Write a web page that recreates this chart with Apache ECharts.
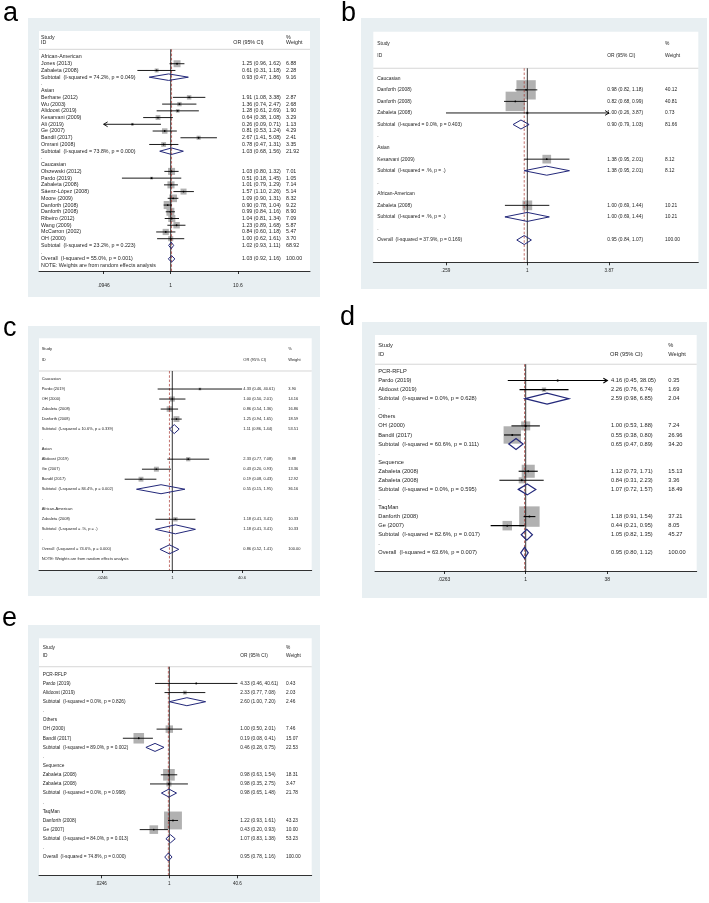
<!DOCTYPE html>
<html><head><meta charset="utf-8">
<script src="https://cdn.jsdelivr.net/npm/echarts@6/dist/echarts.min.js"></script>
<style>html,body{margin:0;padding:0;background:#fff}#c{width:709px;height:903px}</style>
</head><body><div id="c"></div>
<script>
// ---------------- DATA ----------------
const headerLabels = ['Study', 'ID', 'OR (95% CI)', '%', 'Weight'];
const panelLetters = ['a', 'b', 'c', 'd', 'e'];

// Panel a
const aLabels = ['African-American','Jones (2013)','Zabaleta (2008)','Subtotal  (I-squared = 74.2%, p = 0.049)','.','Asian','Berhane (2012)','Wu (2003)','Alidoost (2019)','Kesarvani (2009)','Ali (2019)','Ge (2007)','Bandil (2017)','Omrani (2008)','Subtotal  (I-squared = 73.8%, p = 0.000)','.','Caucasian','Olszewski (2012)','Pardo (2019)','Zabaleta (2008)','Sáenz-López (2008)','Moore (2009)','Danforth (2008)','Danforth (2008)','Ribeiro (2012)','Wang (2009)','McCarron (2002)','OH (2000)','Subtotal  (I-squared = 23.2%, p = 0.223)','.','Overall  (I-squared = 55.0%, p = 0.001)','NOTE: Weights are from random effects analysis'];
const aKinds = 'g s s t d g s s s s s s s s t d g s s s s s s s s s s s t d o n'.split(' ');
const aOR = [null,1.25,0.61,0.93,null,null,1.91,1.36,1.28,0.64,0.26,0.81,2.67,0.78,1.03,null,null,1.03,0.51,1.01,1.57,1.09,0.90,0.99,1.04,1.23,0.84,1.00,1.02,null,1.03,null];
const aLo = [null,0.96,0.31,0.47,null,null,1.08,0.74,0.61,0.38,0.09,0.53,1.41,0.47,0.68,null,null,0.80,0.18,0.79,1.10,0.90,0.78,0.84,0.81,0.89,0.60,0.62,0.93,null,0.92,null];
const aHi = [null,1.62,1.18,1.86,null,null,3.38,2.47,2.69,1.08,0.71,1.24,5.08,1.31,1.56,null,null,1.32,1.45,1.29,2.26,1.31,1.04,1.16,1.34,1.68,1.18,1.61,1.11,null,1.16,null];
const aWt = [null,6.88,2.28,9.16,null,null,2.87,2.68,1.90,3.29,1.13,4.29,2.41,3.35,21.92,null,null,7.01,1.05,7.14,5.14,8.32,9.22,8.90,7.09,5.87,5.47,3.70,68.92,null,100.00,null];
const aArrows = {10: 'L'};
const aTicks = [0.0946, 1, 10.6];
const aTickLabels = ['.0946', '1', '10.6'];

// Panel b
const bLabels = ['Caucasian','Danforth (2008)','Danforth (2008)','Zabaleta (2008)','Subtotal  (I-squared = 0.0%, p = 0.403)','.','Asian','Kesarvani (2009)','Subtotal  (I-squared = .%, p = .)','.','African-American','Zabaleta (2008)','Subtotal  (I-squared = .%, p = .)','.','Overall  (I-squared = 37.9%, p = 0.169)'];
const bKinds = 'g s s s t d g s t d g s t d o'.split(' ');
const bOR = [null,0.98,0.82,1.00,0.90,null,null,1.38,1.38,null,null,1.00,1.00,null,0.95];
const bLo = [null,0.82,0.68,0.26,0.79,null,null,0.95,0.95,null,null,0.69,0.69,null,0.84];
const bHi = [null,1.18,0.99,3.87,1.03,null,null,2.01,2.01,null,null,1.44,1.44,null,1.07];
const bWt = [null,40.12,40.81,0.73,81.66,null,null,8.12,8.12,null,null,10.21,10.21,null,100.00];
const bArrows = {3: 'R'};
const bTicks = [0.259, 1, 3.87];
const bTickLabels = ['.259', '1', '3.87'];

// Panel c
const cLabels = ['Caucasian','Pardo (2019)','OH (2000)','Zabaleta (2008)','Danforth (2008)','Subtotal  (I-squared = 10.6%, p = 0.339)','.','Asian','Alidoost (2019)','Ge (2007)','Bandil (2017)','Subtotal  (I-squared = 84.4%, p = 0.002)','.','African-American','Zabaleta (2008)','Subtotal  (I-squared = .%, p = .)','.','Overall  (I-squared = 74.6%, p = 0.000)','NOTE: Weights are from random effects analysis'];
const cKinds = 'g s s s s t d g s s s t d g s t d o n'.split(' ');
const cOR = [null,4.33,1.00,0.86,1.25,1.11,null,null,2.33,0.43,0.19,0.55,null,null,1.18,1.18,null,0.86,null];
const cLo = [null,0.46,0.50,0.54,0.94,0.86,null,null,0.77,0.20,0.08,0.15,null,null,0.41,0.41,null,0.52,null];
const cHi = [null,40.61,2.01,1.36,1.65,1.44,null,null,7.08,0.93,0.43,1.95,null,null,3.41,3.41,null,1.41,null];
const cWt = [null,3.90,14.16,16.86,18.59,53.51,null,null,9.88,13.36,12.92,36.16,null,null,10.33,10.33,null,100.00,null];
const cArrows = {};
const cTicks = [0.0246, 1, 40.6];
const cTickLabels = ['.0246', '1', '40.6'];

// Panel d
const dLabels = ['PCR-RFLP','Pardo (2019)','Alidoost (2019)','Subtotal  (I-squared = 0.0%, p = 0.628)','.','Others','OH (2000)','Bandil (2017)','Subtotal  (I-squared = 60.6%, p = 0.111)','.','Sequence','Zabaleta (2008)','Zabaleta (2008)','Subtotal  (I-squared = 0.0%, p = 0.595)','.','TaqMan','Danforth (2008)','Ge (2007)','Subtotal  (I-squared = 82.6%, p = 0.017)','.','Overall  (I-squared = 63.6%, p = 0.007)'];
const dKinds = 'g s s t d g s s t d g s s t d g s s t d o'.split(' ');
const dOR = [null,4.16,2.26,2.59,null,null,1.00,0.55,0.65,null,null,1.12,0.84,1.07,null,null,1.18,0.44,1.05,null,0.95];
const dLo = [null,0.45,0.76,0.98,null,null,0.53,0.38,0.47,null,null,0.73,0.31,0.72,null,null,0.91,0.21,0.82,null,0.80];
const dHi = [null,38.05,6.74,6.85,null,null,1.88,0.80,0.89,null,null,1.71,2.23,1.57,null,null,1.54,0.95,1.35,null,1.12];
const dWt = [null,0.35,1.69,2.04,null,null,7.24,26.96,34.20,null,null,15.13,3.36,18.49,null,null,37.21,8.05,45.27,null,100.00];
const dArrows = {1: 'R'};
const dTicks = [0.0263, 1, 38];
const dTickLabels = ['.0263', '1', '38'];

// Panel e
const eLabels = ['PCR-RFLP','Pardo (2019)','Alidoost (2019)','Subtotal  (I-squared = 0.0%, p = 0.826)','.','Others','OH (2000)','Bandil (2017)','Subtotal  (I-squared = 89.0%, p = 0.002)','.','Sequence','Zabaleta (2008)','Zabaleta (2008)','Subtotal  (I-squared = 0.0%, p = 0.998)','.','TaqMan','Danforth (2008)','Ge (2007)','Subtotal  (I-squared = 84.0%, p = 0.013)','.','Overall  (I-squared = 74.8%, p = 0.000)'];
const eKinds = 'g s s t d g s s t d g s s t d g s s t d o'.split(' ');
const eOR = [null,4.33,2.33,2.60,null,null,1.00,0.19,0.46,null,null,0.98,0.98,0.98,null,null,1.22,0.43,1.07,null,0.95];
const eLo = [null,0.46,0.77,1.00,null,null,0.50,0.08,0.28,null,null,0.63,0.35,0.65,null,null,0.93,0.20,0.83,null,0.78];
const eHi = [null,40.61,7.08,7.20,null,null,2.01,0.41,0.75,null,null,1.54,2.75,1.48,null,null,1.61,0.93,1.38,null,1.16];
const eWt = [null,0.43,2.03,2.46,null,null,7.46,15.07,22.53,null,null,18.31,3.47,21.78,null,null,43.23,10.00,53.23,null,100.00];
const eArrows = {};
const eTicks = [0.0246, 1, 40.6];
const eTickLabels = ['.0246', '1', '40.6'];

// ---------------- LAYOUT ----------------
const layouts = [
  {grid:{left:39, top:31, width:271, height:240}, x:[-2.011, 2.127], y:[-3.863, 31.80], bg:[28,18,292,279], letter:[3,14],
   font:5.3, tickFont:5, margin:12, col:{label:2, orHead:194.3, or:203, wt:247}, hdr:{study:-2.87, id:-2.18, sep:-1.14}, boxK:2.65, diaH:6.5, lw:0.9, dlw:1, dot:0.9},
  {grid:{left:373.3, top:31.7, width:325, height:230.6}, x:[-1.108, 1.230], y:[-4.035, 15.93], bg:[361,18,346,271], letter:[341,14],
   font:4.9, tickFont:4.6, margin:6, col:{label:4, orHead:234, or:234, wt:291.7}, hdr:{study:-2.97, id:-1.96, sep:-0.87}, boxK:3.05, diaH:9, lw:0.9, dlw:1, dot:0.9},
  {grid:{left:39, top:338.3, width:272.7, height:231.7}, x:[-3.071, 3.212], y:[-4.062, 19.06], bg:[28,326,292,270], letter:[3,329],
   font:4.0, tickFont:4.2, margin:6, col:{label:2.7, orHead:204.3, or:204.3, wt:249.3}, hdr:{study:-2.96, id:-1.9, sep:-0.8}, boxK:1.36, diaH:9, lw:0.9, dlw:1, dot:0.8},
  {grid:{left:375, top:335, width:321.7, height:236}, x:[-2.915, 3.308], y:[-4.024, 22.0], bg:[362,322,345,276], letter:[340,318],
   font:5.7, tickFont:5, margin:6, col:{label:3.3, orHead:235, or:236, wt:293.3}, hdr:{study:-2.9, id:-1.93, sep:-0.8}, boxK:3.35, diaH:11, lw:1.1, dlw:1.2, dot:1},
  {grid:{left:39, top:638.3, width:272.7, height:237}, x:[-3.077, 3.362], y:[-3.941, 22.0], bg:[28,625,292,277], letter:[2,619],
   font:4.8, tickFont:4.6, margin:6, col:{label:3.7, orHead:201.3, or:201.3, wt:247}, hdr:{study:-2.96, id:-2.0, sep:-0.83}, boxK:2.72, diaH:8, lw:0.9, dlw:1, dot:0.9}
];

const panels = [
  {labels:aLabels, kinds:aKinds, or:aOR, lo:aLo, hi:aHi, wt:aWt, arrows:aArrows, ticks:aTicks, tickLabels:aTickLabels},
  {labels:bLabels, kinds:bKinds, or:bOR, lo:bLo, hi:bHi, wt:bWt, arrows:bArrows, ticks:bTicks, tickLabels:bTickLabels},
  {labels:cLabels, kinds:cKinds, or:cOR, lo:cLo, hi:cHi, wt:cWt, arrows:cArrows, ticks:cTicks, tickLabels:cTickLabels},
  {labels:dLabels, kinds:dKinds, or:dOR, lo:dLo, hi:dHi, wt:dWt, arrows:dArrows, ticks:dTicks, tickLabels:dTickLabels},
  {labels:eLabels, kinds:eKinds, or:eOR, lo:eLo, hi:eHi, wt:eWt, arrows:eArrows, ticks:eTicks, tickLabels:eTickLabels}
];

const FONT = '"Liberation Sans", Arial, Helvetica, sans-serif';
const TEXT_COLOR = '#1e1e1e';
const BOX_COLOR = '#b1b1b1';
const DIAMOND_COLOR = '#23287a';
const OVERALL_COLOR = '#a8322d';
const BG_COLOR = '#e8eff2';

function fmtCI(o, l, h) {
  return o.toFixed(2) + ' (' + l.toFixed(2) + ', ' + h.toFixed(2) + ')';
}

function textEl(s, x, y, font) {
  return {type:'text', z2:10, silent:true, style:{text:s, x:x, y:y, font:font, fill:TEXT_COLOR,
    textAlign:'left', align:'left', textVerticalAlign:'middle', verticalAlign:'middle'}};
}

function rowRenderer(P, L) {
  const font = L.font + 'px ' + FONT;
  const lg = Math.log10;
  return function (params, api) {
    const r = api.value(1);
    const cs = params.coordSys;
    const y = api.coord([0, r])[1];
    const kind = P.kinds[r];
    const kids = [];
    kids.push(textEl(P.labels[r], cs.x + L.col.label, y, font));
    if (P.or[r] != null) {
      kids.push(textEl(fmtCI(P.or[r], P.lo[r], P.hi[r]), cs.x + L.col.or, y, font));
      kids.push(textEl(P.wt[r].toFixed(2), cs.x + L.col.wt, y, font));
      const lo = Math.max(P.lo[r], P.ticks[0]);
      const hi = Math.min(P.hi[r], P.ticks[2]);
      const xo = api.coord([lg(P.or[r]), r])[0];
      const xl = api.coord([lg(lo), r])[0];
      const xh = api.coord([lg(hi), r])[0];
      if (kind === 's') {
        const s = L.boxK * Math.sqrt(P.wt[r]);
        kids.push({type:'rect', z2:1, silent:true, shape:{x:xo - s / 2, y:y - s / 2, width:s, height:s}, style:{fill:BOX_COLOR}});
        kids.push({type:'line', z2:10, silent:true, shape:{x1:xl, y1:y, x2:xh, y2:y}, style:{stroke:'#000', lineWidth:L.lw}});
        kids.push({type:'circle', z2:11, silent:true, shape:{cx:xo, cy:y, r:L.dot}, style:{fill:'#000'}});
        const ar = P.arrows[r];
        if (ar) {
          const a = 4, xe = ar === 'R' ? xh : xl, d = ar === 'R' ? -1 : 1;
          kids.push({type:'polyline', z2:10, silent:true,
            shape:{points:[[xe + d * a, y - a * 0.6], [xe, y], [xe + d * a, y + a * 0.6]]},
            style:{stroke:'#000', lineWidth:L.lw, fill:null}});
        }
      } else {
        const h = L.diaH / 2;
        kids.push({type:'polygon', z2:10, silent:true, shape:{points:[[xl, y], [xo, y - h], [xh, y], [xo, y + h]]},
          style:{fill:'none', stroke:DIAMOND_COLOR, lineWidth:L.dlw}});
      }
    }
    return {type:'group', children:kids};
  };
}

function decorRenderer(P, L) {
  const font = L.font + 'px ' + FONT;
  const overallIdx = P.kinds.indexOf('o');
  const overall = P.or[overallIdx];
  return function (params, api) {
    const cs = params.coordSys;
    const yS = api.coord([0, L.hdr.study])[1];
    const yI = api.coord([0, L.hdr.id])[1];
    const ySep = api.coord([0, L.hdr.sep])[1];
    const bottom = cs.y + cs.height;
    const x1 = api.coord([0, 0])[0];
    const xo = api.coord([Math.log10(overall), 0])[0];
    return {type:'group', children:[
      textEl(headerLabels[0], cs.x + L.col.label, yS, font),
      textEl(headerLabels[1], cs.x + L.col.label, yI, font),
      textEl(headerLabels[2], cs.x + L.col.orHead, yI, font),
      textEl(headerLabels[3], cs.x + L.col.wt, yS, font),
      textEl(headerLabels[4], cs.x + L.col.wt, yI, font),
      {type:'line', z2:5, silent:true, shape:{x1:cs.x, y1:ySep, x2:cs.x + cs.width, y2:ySep}, style:{stroke:'#c4c4c4', lineWidth:0.7}},
      {type:'line', z2:5, silent:true, shape:{x1:x1, y1:ySep, x2:x1, y2:bottom}, style:{stroke:'#000', lineWidth:0.8}},
      {type:'line', z2:6, silent:true, shape:{x1:xo, y1:ySep, x2:xo, y2:bottom}, style:{stroke:OVERALL_COLOR, lineWidth:0.7, lineDash:[2.5, 1.8]}}
    ]};
  };
}

const option = {animation:false, grid:[], xAxis:[], yAxis:[], series:[], graphic:{elements:[]}};

panels.forEach(function (P, i) {
  const L = layouts[i];
  option.graphic.elements.push({type:'rect', z:-10, silent:true, shape:{x:L.bg[0], y:L.bg[1], width:L.bg[2], height:L.bg[3]}, style:{fill:BG_COLOR}});
  option.graphic.elements.push({type:'text', z:5, silent:true, style:{text:panelLetters[i], x:L.letter[0], y:L.letter[1],
    font:'27px ' + FONT, fill:'#000', textAlign:'left', align:'left', textVerticalAlign:'middle', verticalAlign:'middle'}});
  option.grid.push({left:L.grid.left, top:L.grid.top, width:L.grid.width, height:L.grid.height, show:true, backgroundColor:'#ffffff', borderWidth:0, containLabel:false});
  const tv = P.ticks.map(function (t) { return Math.log10(t); });
  option.xAxis.push({type:'value', gridIndex:i, min:L.x[0], max:L.x[1], position:'bottom',
    axisLine:{show:true, onZero:false, lineStyle:{color:'#000', width:0.8}},
    axisTick:{show:true, inside:false, length:3, customValues:tv, lineStyle:{color:'#000', width:0.8}},
    axisLabel:{show:true, customValues:tv, margin:L.margin, fontSize:L.tickFont, fontFamily:FONT, color:TEXT_COLOR,
      formatter:function (v) {
        for (let k = 0; k < tv.length; k++) if (Math.abs(tv[k] - v) < 1e-6) return P.tickLabels[k];
        return '';
      }},
    splitLine:{show:false}});
  option.yAxis.push({type:'value', gridIndex:i, inverse:true, min:L.y[0], max:L.y[1], show:false, splitLine:{show:false}});
  option.series.push({type:'custom', coordinateSystem:'cartesian2d', xAxisIndex:i, yAxisIndex:i, clip:false,
    encode:{x:0, y:1}, data:[[0, 0]], renderItem:decorRenderer(P, L), silent:true});
  option.series.push({type:'custom', coordinateSystem:'cartesian2d', xAxisIndex:i, yAxisIndex:i, clip:false,
    encode:{x:0, y:1}, data:P.labels.map(function (_, r) { return [0, r]; }), renderItem:rowRenderer(P, L), silent:true});
});

const chart = echarts.init(document.getElementById('c'), null, {renderer:'canvas'});
chart.setOption(option);
</script>
</body></html>
